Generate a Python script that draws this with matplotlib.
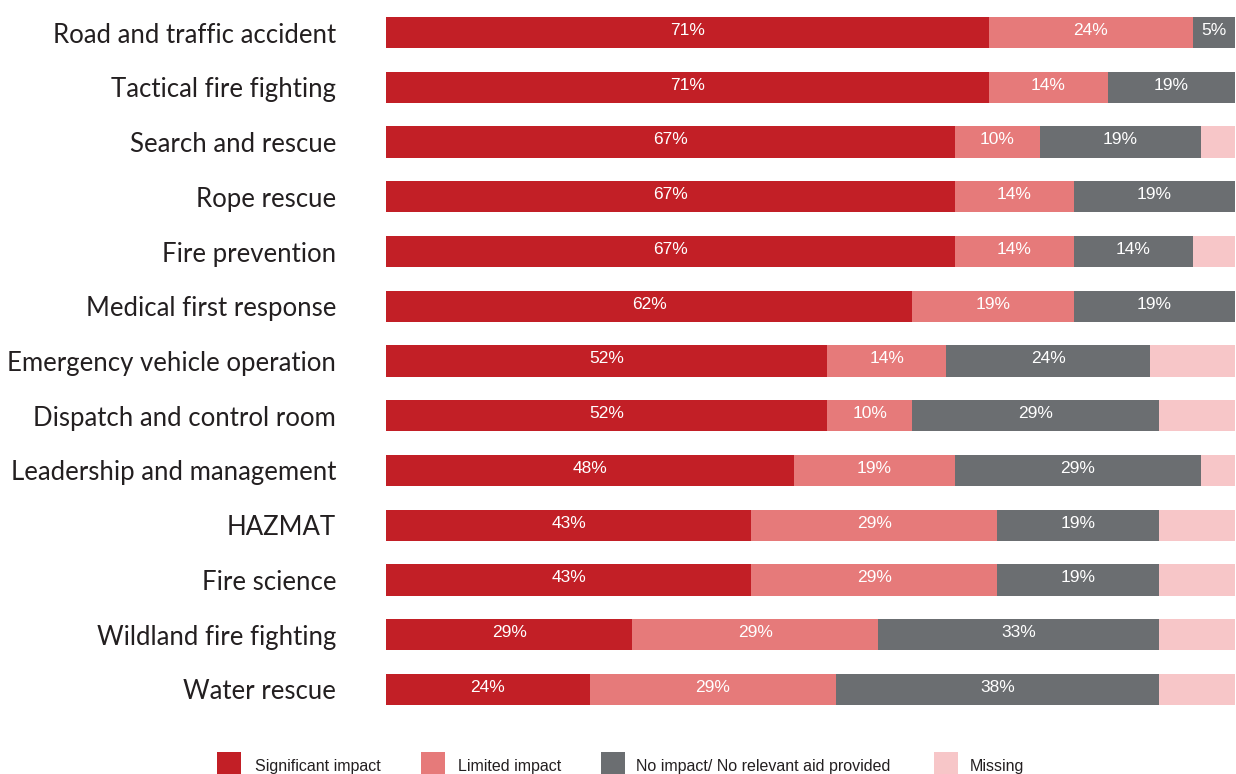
import matplotlib
matplotlib.use("Agg")
import matplotlib.pyplot as plt
from matplotlib.patches import Rectangle

categories = [
    "Road and traffic accident",
    "Tactical fire fighting",
    "Search and rescue",
    "Rope rescue",
    "Fire prevention",
    "Medical first response",
    "Emergency vehicle operation",
    "Dispatch and control room",
    "Leadership and management",
    "HAZMAT",
    "Fire science",
    "Wildland fire fighting",
    "Water rescue",
]
significant = [71, 71, 67, 67, 67, 62, 52, 52, 48, 43, 43, 29, 24]
limited = [24, 14, 10, 14, 14, 19, 14, 10, 19, 29, 29, 29, 29]
no_impact = [5, 19, 19, 19, 14, 19, 24, 29, 29, 19, 19, 33, 38]
missing = [max(0, 100 - (s + l + n)) for s, l, n in zip(significant, limited, no_impact)]

series_names = ["Significant impact", "Limited impact",
                "No impact/ No relevant aid provided", "Missing"]
colors = ["#C21F26", "#E67A7A", "#6B6E71", "#F7C6C8"]

fig = plt.figure(figsize=(12.36, 7.74), dpi=100)
ax = fig.add_axes([386 / 1236, 1 - 705 / 774, (1235 - 386) / 1236, (705 - 17) / 774])

y = list(range(len(categories)))
bar_h = 0.57
left = [0] * len(categories)
for name, vals, col, labelled in zip(series_names,
                                     [significant, limited, no_impact, missing],
                                     colors, [True, True, True, False]):
    ax.barh(y, vals, left=left, height=bar_h, color=col, linewidth=0)
    if labelled:
        for yi, l0, v in zip(y, left, vals):
            visible_end = min(l0 + v, 100)
            cx = (l0 + visible_end) / 2
            ax.text(cx, yi - 0.04, f"{v}%", ha="center", va="center",
                    color="white", fontsize=12.5, family="Liberation Sans")
    left = [a + b for a, b in zip(left, vals)]

ax.set_xlim(0, 100)
ax.set_ylim(len(categories) - 1 + bar_h / 2, -bar_h / 2)
ax.set_yticks(y)
ax.set_yticklabels(categories, family="Lato", fontsize=18.5, color="#231F20")
ax.tick_params(axis="y", length=0, pad=36)
ax.set_xticks([])
for s in ax.spines.values():
    s.set_visible(False)

# Legend row along the bottom edge
legend_items = [(217, 255), (421, 458), (601, 636), (934, 970)]
for (sq_x, tx_x), name, col in zip(legend_items, series_names, colors):
    fig.patches.append(Rectangle((sq_x / 1236, 0), 24 / 1236, 22 / 774,
                                 transform=fig.transFigure, color=col,
                                 linewidth=0))
    fig.text(tx_x / 1236, 8 / 774, name, ha="left", va="center",
             fontsize=11.5, family="Liberation Sans", color="#231F20")

fig.savefig("out.png", dpi=100)
